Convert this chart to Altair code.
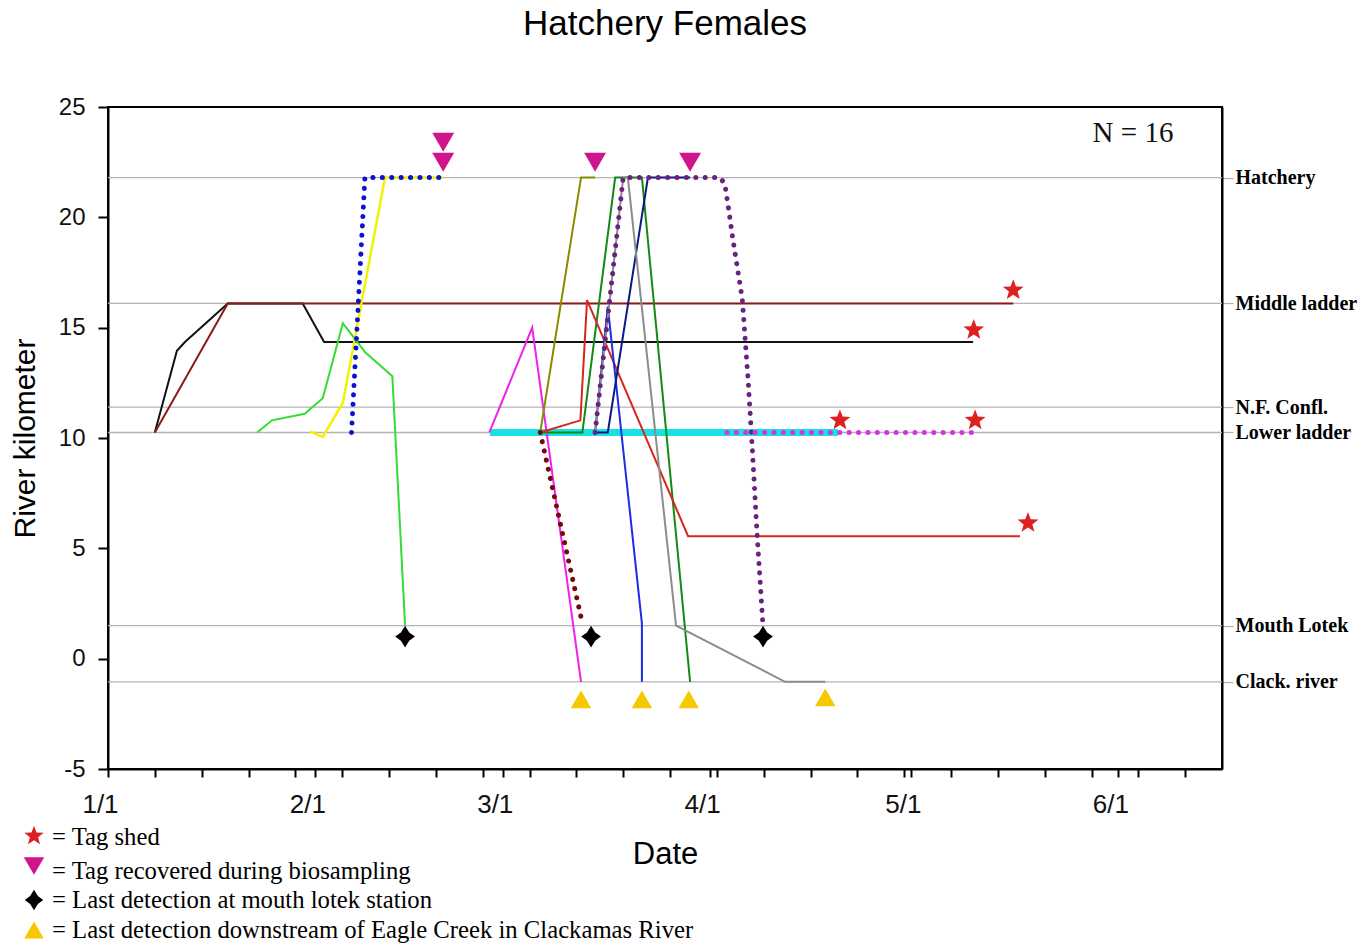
import json
import math
import altair as alt
import pandas as pd

# ---------------- values ----------------
TITLE = "Hatchery Females"
X_TITLE = "Date"
Y_TITLE = "River kilometer"
N_LABEL = "N = 16"

MONTH_DAYS = [0, 31, 59, 90, 120, 151]           # days since Jan 1
MONTH_LABELS = ["1/1", "2/1", "3/1", "4/1", "5/1", "6/1"]
WEEK_DAYS = [0, 7, 14, 21, 28, 35, 42, 49, 56, 63, 70, 77, 84, 91, 98, 105,
             112, 119, 126, 133, 140, 147, 154, 161]
X_MAX = 166.5
Y_TICKS = [-5, 0, 5, 10, 15, 20, 25]

STATION_NAMES = ["Hatchery", "Middle ladder", "N.F. Confl.", "Lower ladder",
                 "Mouth Lotek", "Clack. river"]
STATION_KM = [21.8, 16.1, 11.4, 10.25, 1.5, -1.05]

# fish tracks (day since Jan 1, river km)
CYAN_DAY = [57.1, 109.1]
CYAN_KM = [10.25, 10.25]
BLACK_DAY = [7.0, 10.3, 11.5, 17.9, 29.1, 32.3, 129.3]
BLACK_KM = [10.25, 13.95, 14.35, 16.1, 16.1, 14.35, 14.35]
BROWN_DAY = [7.0, 17.9, 135.3]
BROWN_KM = [10.25, 16.1, 16.1]
LIME_DAY = [22.3, 24.5, 29.4, 32.1, 35.1, 38.4, 42.5, 44.4]
LIME_KM = [10.25, 10.8, 11.1, 11.8, 15.2, 13.9, 12.8, 1.5]
YELLOW_DAY = [30.2, 32.1, 35.1, 41.4, 50.1]
YELLOW_KM = [10.3, 10.05, 11.6, 21.8, 21.8]
MAGENTA_DAY = [57.0, 63.4, 70.7]
MAGENTA_KM = [10.25, 15.0, -1.05]
OLIVE_DAY = [64.6, 70.7, 72.8]
OLIVE_KM = [10.25, 21.8, 21.8]
DKGREEN_DAY = [64.6, 70.9, 75.8, 79.8, 87.0]
DKGREEN_KM = [10.25, 10.25, 21.8, 21.8, -1.05]
RED_DAY = [64.6, 70.6, 71.6, 86.7, 136.3]
RED_KM = [10.25, 10.8, 16.25, 5.55, 5.55]
BLUE_DAY = [72.8, 74.7, 79.8, 79.8]
BLUE_KM = [10.25, 15.95, 1.6, -1.05]
NAVY_DAY = [72.8, 74.7, 80.7, 87.0]
NAVY_KM = [10.25, 10.25, 21.8, 21.8]
GRAY_DAY = [72.8, 77.0, 77.7, 84.9, 101.2, 107.2]
GRAY_KM = [10.25, 21.8, 21.8, 1.5, -1.05, -1.05]
BLUEDOT_DAY = [36.4, 38.4, 50.1]
BLUEDOT_KM = [10.25, 21.8, 21.8]
MAROONDOT_DAY = [64.6, 70.9]
MAROONDOT_KM = [10.25, 1.6]
PURPLEDOT_DAY = [72.8, 77.0, 91.5, 92.2, 92.7, 93.4, 94.8, 95.7, 96.3, 97.0, 97.9]
PURPLEDOT_KM = [10.25, 21.8, 21.8, 21.5, 20.5, 19.0, 16.3, 12.5, 9.5, 5.7, 1.45]
MAGDOT_DAY = [92.5, 129.2, 129.2]
MAGDOT_KM = [10.25, 10.25, 10.1]

# event markers
STAR_DAY = [135.3, 129.4, 109.4, 129.6, 137.5]
STAR_KM = [16.7, 14.9, 10.8, 10.8, 6.15]
TRIDOWN_DAY = [50.1, 50.1, 72.8, 87.0]
TRIDOWN_KM = [23.4, 22.5, 22.5, 22.5]
DIAMOND_DAY = [44.4, 72.2, 97.9]
DIAMOND_KM = [1.0, 1.0, 1.0]
TRIUP_DAY = [70.7, 79.8, 86.8, 107.2]
TRIUP_KM = [-1.85, -1.85, -1.85, -1.75]

LEGEND_TEXTS = ["= Tag shed",
                "= Tag recovered during biosampling",
                "= Last detection at mouth lotek station",
                "= Last detection downstream of Eagle Creek in Clackamas River"]

# ---------------- styles ----------------
SOLID = "solid"
DOT = "dot"
TRACKS = [
    ("cyan", CYAN_DAY, CYAN_KM, "#19e0e3", 7, SOLID),
    ("black", BLACK_DAY, BLACK_KM, "#111111", 2, SOLID),
    ("brown", BROWN_DAY, BROWN_KM, "#8b1a1a", 2, SOLID),
    ("lime", LIME_DAY, LIME_KM, "#33dd33", 2, SOLID),
    ("yellow", YELLOW_DAY, YELLOW_KM, "#f2f200", 2.5, SOLID),
    ("magenta", MAGENTA_DAY, MAGENTA_KM, "#ee22ee", 2, SOLID),
    ("olive", OLIVE_DAY, OLIVE_KM, "#8b8b00", 2, SOLID),
    ("dkgreen", DKGREEN_DAY, DKGREEN_KM, "#138a13", 2, SOLID),
    ("red", RED_DAY, RED_KM, "#d8261c", 2, SOLID),
    ("blue", BLUE_DAY, BLUE_KM, "#1a2ee6", 2, SOLID),
    ("navy", NAVY_DAY, NAVY_KM, "#0a1a80", 2, SOLID),
    ("gray", GRAY_DAY, GRAY_KM, "#8c8c8c", 2, SOLID),
    ("bluedot", BLUEDOT_DAY, BLUEDOT_KM, "#0a14d0", 5, DOT),
    ("maroondot", MAROONDOT_DAY, MAROONDOT_KM, "#7a0a0a", 5, DOT),
    ("purpledot", PURPLEDOT_DAY, PURPLEDOT_KM, "#6a2280", 5, DOT),
    ("magdot", MAGDOT_DAY, MAGDOT_KM, "#d633e0", 5, DOT),
]

STAR_COLOR = "#dd2020"
TRIDOWN_COLOR = "#d0148c"
DIAMOND_COLOR = "#000000"
TRIUP_COLOR = "#f5c800"

pts = []
for i in range(10):
    a = -math.pi / 2 + i * math.pi / 5
    r = 1.0 if i % 2 == 0 else 0.42
    pts.append(f"{r * math.cos(a):.3f},{r * math.sin(a):.3f}")
STAR_PATH = "M" + " L".join(pts) + " Z"
DIAMOND_PATH = "M0,-1 L0.38,-0.38 L0.9,0 L0.38,0.38 L0,1 L-0.38,0.38 L-0.9,0 L-0.38,-0.38 Z"

SANS = "Liberation Sans, Arial, sans-serif"
SERIF = "Liberation Serif, Times New Roman, serif"

PLOT_W, PLOT_H = 1114, 662
PAD = {"left": 108, "top": 107, "right": 150, "bottom": 177}

# ---------------- encodings ----------------
x_vals = sorted(set(WEEK_DAYS + MONTH_DAYS))
x_label_expr = (f"indexof({json.dumps(MONTH_DAYS)}, datum.value) >= 0 ? "
                f"{json.dumps(MONTH_LABELS)}[indexof({json.dumps(MONTH_DAYS)}, datum.value)] : ''")
X_AXIS = alt.Axis(values=x_vals, labelExpr=x_label_expr, title=X_TITLE, grid=False,
                  tickSize=8, tickColor="black", tickWidth=2, domainColor="black",
                  domainWidth=2, labelFont=SANS, labelFontSize=26, labelColor="#111",
                  labelPadding=14, labelOffset=-8, labelOverlap=False, labelFlush=False,
                  titleFont=SANS, titleFontSize=31, titleFontWeight="normal",
                  titleColor="black", titlePadding=22)
Y_AXIS = alt.Axis(values=Y_TICKS, title=Y_TITLE, grid=False, tickSize=10,
                  labelExpr="datum.value < 0 ? '-' + abs(datum.value) : '' + datum.value",
                  tickColor="black", tickWidth=2, domainColor="black", domainWidth=2,
                  labelFont=SANS, labelFontSize=24, labelColor="#111", labelPadding=13,
                  titleFont=SANS, titleFontSize=30, titleFontWeight="normal",
                  titleColor="black", titlePadding=18)
X_SCALE = alt.Scale(domain=[0, X_MAX], nice=False, zero=False)
Y_SCALE = alt.Scale(domain=[-5, 25], nice=False, zero=False)


def X():
    return alt.X("day:Q", scale=X_SCALE, axis=X_AXIS)


def Y():
    return alt.Y("km:Q", scale=Y_SCALE, axis=Y_AXIS)


# ---------------- reference lines with right-side labels ----------------
ref_df = pd.DataFrame({"km": STATION_KM, "name": STATION_NAMES})
ref_label_expr = (f"indexof({json.dumps(STATION_KM)}, datum.value) >= 0 ? "
                  f"{json.dumps(STATION_NAMES)}[indexof({json.dumps(STATION_KM)}, datum.value)] : ''")
ref_layer = alt.Chart(ref_df).mark_rule(color="#b4b4b4", strokeWidth=1.3).encode(
    y=alt.Y("km:Q", scale=alt.Scale(domain=[-5, 25], nice=False, zero=False),
            axis=alt.Axis(orient="right", values=STATION_KM, labelExpr=ref_label_expr,
                          grid=False, tickSize=11, tickColor="#b4b4b4", tickWidth=1.3,
                          domainColor="black", domainWidth=2, labelFont=SERIF,
                          labelFontWeight="bold", labelFontSize=20, labelColor="black",
                          labelPadding=2, labelOverlap=False, labelFlush=False, title=None))
)

# ---------------- tracks ----------------
layers = []
for name, days, kms, color, width, kind in TRACKS:
    df = pd.DataFrame({"day": days, "km": kms, "seq": list(range(len(days)))})
    if kind == DOT:
        mk = alt.Chart(df).mark_line(color=color, strokeWidth=width, strokeDash=[0.1, 9.3],
                                     strokeCap="round", strokeJoin="round")
    else:
        mk = alt.Chart(df).mark_line(color=color, strokeWidth=width, strokeJoin="miter")
    layers.append(mk.encode(x=X(), y=Y(), order=alt.Order("seq:Q")))


def markers(days, kms, shape, color, size):
    df = pd.DataFrame({"day": days, "km": kms})
    return alt.Chart(df).mark_point(shape=shape, filled=True, color=color, size=size,
                                    opacity=1, strokeWidth=0).encode(x=X(), y=Y())


layers.append(markers(STAR_DAY, STAR_KM, STAR_PATH, STAR_COLOR, 480))
layers.append(markers(TRIDOWN_DAY, TRIDOWN_KM, "triangle-down", TRIDOWN_COLOR, 480))
layers.append(markers(DIAMOND_DAY, DIAMOND_KM, DIAMOND_PATH, DIAMOND_COLOR, 480))
layers.append(markers(TRIUP_DAY, TRIUP_KM, "triangle-up", TRIUP_COLOR, 420))

inner = alt.layer(*layers)

# ---------------- annotations (title, legend and N) ----------------
annots = []
annots.append(alt.Chart(pd.DataFrame({"t": [TITLE]})).mark_text(
    align="center", baseline="alphabetic", font=SANS, fontSize=35, color="black")
    .encode(x=alt.value(557), y=alt.value(-72), text="t:N"))

LEG_MARK_Y = [729, 759, 793, 823]
LEG_TEXT_Y = [731, 765, 794, 824]
LEG_SHAPES = [(STAR_PATH, STAR_COLOR, 420), ("triangle-down", TRIDOWN_COLOR, 420),
              (DIAMOND_PATH, DIAMOND_COLOR, 420), ("triangle-up", TRIUP_COLOR, 380)]
for txt, my, ty, (shape, color, size) in zip(LEGEND_TEXTS, LEG_MARK_Y, LEG_TEXT_Y, LEG_SHAPES):
    d = pd.DataFrame({"t": [txt]})
    annots.append(alt.Chart(d).mark_point(shape=shape, filled=True, color=color, size=size,
                                          opacity=1, strokeWidth=0)
                  .encode(x=alt.value(-74), y=alt.value(my)))
    annots.append(alt.Chart(d).mark_text(align="left", baseline="middle", font=SERIF,
                                         fontSize=24.7, color="black")
                  .encode(x=alt.value(-56), y=alt.value(ty), text="t:N"))

annots.append(alt.Chart(pd.DataFrame({"t": [N_LABEL]})).mark_text(
    align="center", baseline="middle", font=SERIF, fontSize=29, color="#111")
    .encode(x=alt.value(1025), y=alt.value(26), text="t:N"))

chart = alt.layer(ref_layer, inner, *annots).resolve_scale(y="independent").properties(
    width=PLOT_W, height=PLOT_H,
    padding=PAD,
    autosize=alt.AutoSizeParams(type="none"),
    background="white",
).configure_view(stroke="black", strokeWidth=2)

chart.save("out.html", embed_options={"renderer": "svg", "actions": False})
